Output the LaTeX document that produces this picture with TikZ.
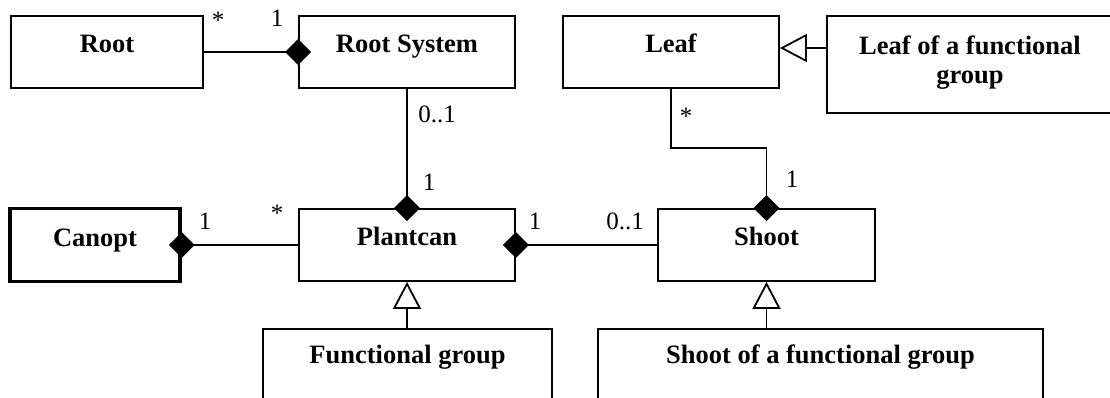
\documentclass[tikz,border=0pt]{standalone}
\usepackage{fontspec}
\setmainfont{Liberation Serif}
\usetikzlibrary{shapes.geometric,arrows.meta,calc}
\begin{document}
\begin{tikzpicture}[x=1pt,y=-1pt,
  box/.style={draw, line width=1.8pt, rectangle, inner sep=0pt},
  thickbox/.style={box, line width=3.4pt},
  cname/.style={font=\fontsize{26.5}{30}\selectfont\bfseries, anchor=base, inner sep=0pt},
  mult/.style={font=\fontsize{25}{30}\selectfont, anchor=base, inner sep=0pt},
  comp/.style={diamond, fill=black, draw=none, inner sep=0pt, minimum width=26pt, minimum height=26pt},
  assoc/.style={line width=1.8pt},
  gen/.style={line width=1.8pt, -{Triangle[open, length=27pt, width=28pt]}},
]
\useasboundingbox (0,0) rectangle (1110,398);
\clip (0,0) rectangle (1110,398);
% boxes
\node[box, minimum width=192pt, minimum height=72pt] (root) at (107,52) {};
\node[box, minimum width=216pt, minimum height=72pt] (rootsys) at (407,52) {};
\node[box, minimum width=216pt, minimum height=72pt] (leaf) at (671,52) {};
\node[box, minimum width=286pt, minimum height=97pt] (leaffg) at (970,64.5) {};
\node[thickbox, minimum width=170pt, minimum height=73pt] (canopt) at (95,245) {};
\node[box, minimum width=216pt, minimum height=72pt] (plantcan) at (407,245) {};
\node[box, minimum width=217pt, minimum height=72pt] (shoot) at (766.5,245) {};
\node[box, minimum width=289pt, minimum height=80pt] (fg) at (407.5,369) {};
\node[box, minimum width=445pt, minimum height=80pt] (sfg) at (820.5,369) {};
% class names
\node[cname] (tRoot) at (107,53) {Root};
\node[cname] (tRootSys) at (407,53) {Root System};
\node[cname] (tLeaf) at (671,53) {Leaf};
\node[cname] (tLfgA) at (970,55) {Leaf of a functional};
\node[cname] (tLfgB) at (970,84) {group};
\node[cname] (tCanopt) at (95,246) {Canopt};
\node[cname] (tPlantcan) at (407,245) {Plantcan};
\node[cname] (tShoot) at (766.5,245) {Shoot};
\node[cname] (tFg) at (407.5,363) {Functional group};
\node[cname] (tSfg) at (820.5,363) {Shoot of a functional group};
% associations
\draw[assoc] (root.east) -- (rootsys.west);
\draw[assoc] (rootsys.south) -- (plantcan.north);
\draw[assoc] (canopt.east) -- (plantcan.west);
\draw[assoc] (plantcan.east) -- (shoot.west);
\coordinate (bend) at (720,148);
\draw[assoc] (leaf.south) |- (bend) -| (shoot.north);
% composition diamonds
\node[comp] (d1) at (rootsys.west) {};
\node[comp] (d2) at (plantcan.north) {};
\node[comp] (d3) at (canopt.east) {};
\node[comp] (d4) at (plantcan.east) {};
\node[comp] (d5) at (shoot.north) {};
% generalizations
\coordinate (ga) at ([yshift=4pt]leaf.east);
\draw[gen] (ga -| leaffg.west) -- (ga);
\draw[gen] (plantcan.south |- fg.north) -- (plantcan.south);
\draw[gen] (shoot.south |- sfg.north) -- (shoot.south);
% multiplicities
\node[mult] (m1) at (218,29) {*};
\node[mult] (m2) at (277,27) {1};
\node[mult] (m3) at (437,123) {0..1};
\node[mult] (m4) at (686,125) {*};
\node[mult] (m5) at (429,190) {1};
\node[mult] (m6) at (205,229) {1};
\node[mult] (m7) at (277,222) {*};
\node[mult] (m8) at (535,229) {1};
\node[mult] (m9) at (625,229) {0..1};
\node[mult] (m10) at (792,187) {1};
\end{tikzpicture}
\end{document}
